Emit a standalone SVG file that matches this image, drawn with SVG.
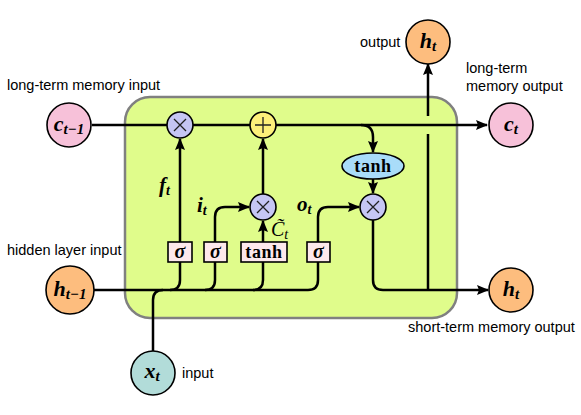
<svg xmlns="http://www.w3.org/2000/svg" width="581" height="415" viewBox="0 0 581 415">
<defs>
<marker id="arr" markerUnits="userSpaceOnUse" markerWidth="12" markerHeight="10" refX="11" refY="5" orient="auto">
<path d="M0,0 L12,5 L0,10 L2,5 z" fill="#000"/>
</marker>
<style>
.lbl{font-family:"Liberation Sans",Arial,sans-serif;font-size:14.5px;fill:#000}
.math{font-family:"Liberation Serif","Times New Roman",serif;font-weight:bold;font-style:italic;fill:#000}
.op{font-family:"Liberation Serif","Times New Roman",serif;font-weight:bold;fill:#000;letter-spacing:0.6px}
.ln{fill:none;stroke:#000;stroke-width:2.5}
.node{stroke:#000;stroke-width:1.6}
.gate{fill:#fde8ec;stroke:#000;stroke-width:1.6}
.sym{stroke:#222;stroke-width:1.3;fill:none}
</style>
</defs>
<rect id="cell" x="125" y="97" width="332" height="221" rx="25" fill="#e0fc8b" stroke="#808080" stroke-width="2.5"/>
<g id="connectors">
<path class="ln" d="M92,125 H487" marker-end="url(#arr)"/>
<path class="ln" d="M361,125 Q373,125 373,137 V152" marker-end="url(#arr)"/>
<path class="ln" d="M373,179 V193" marker-end="url(#arr)"/>
<path class="ln" d="M373,220 V280 Q373,290 383,290 H488" marker-end="url(#arr)"/>
<path class="ln" d="M428,290 V134"/>
<path class="ln" d="M428,116 V64" marker-end="url(#arr)"/>
<path class="ln" d="M94,290 H308 Q318,290 318,280 V262"/>
<path class="ln" d="M180,262 V280 Q180,290 170,290"/>
<path class="ln" d="M215,262 V280 Q215,290 205,290"/>
<path class="ln" d="M263,262 V280 Q263,290 253,290"/>
<path class="ln" d="M153,351 V300 Q153,290 163,290"/>
<path class="ln" d="M180,242 V139" marker-end="url(#arr)"/>
<path class="ln" d="M215,242 V217 Q215,207 225,207 H249" marker-end="url(#arr)"/>
<path class="ln" d="M263,242 V221" marker-end="url(#arr)"/>
<path class="ln" d="M263,194 V139" marker-end="url(#arr)"/>
<path class="ln" d="M318,242 V217 Q318,207 328,207 H359" marker-end="url(#arr)"/>
</g>
<g id="c_prev"><circle class="node" cx="69" cy="125" r="22" fill="#f7c1d9"/><text class="math" x="69" y="131" text-anchor="middle" font-size="22">c<tspan font-size="15" dy="3">t−1</tspan></text></g>
<g id="h_prev"><circle class="node" cx="70" cy="290" r="24" fill="#fdbd7e"/><text class="math" x="70" y="296" text-anchor="middle" font-size="22">h<tspan font-size="15" dy="3">t−1</tspan></text></g>
<g id="x_t"><circle class="node" cx="153" cy="373" r="22" fill="#b2dcd9"/><text class="math" x="152" y="378" text-anchor="middle" font-size="22">x<tspan font-size="15" dy="3">t</tspan></text></g>
<g id="h_out"><circle class="node" cx="428" cy="42" r="22" fill="#fdbd7e"/><text class="math" x="428" y="48" text-anchor="middle" font-size="22">h<tspan font-size="15" dy="3">t</tspan></text></g>
<g id="c_t"><circle class="node" cx="511" cy="125" r="22" fill="#f7c1d9"/><text class="math" x="511" y="131" text-anchor="middle" font-size="22">c<tspan font-size="15" dy="3">t</tspan></text></g>
<g id="h_t"><circle class="node" cx="511" cy="290" r="22" fill="#fdbd7e"/><text class="math" x="511" y="296" text-anchor="middle" font-size="22">h<tspan font-size="15" dy="3">t</tspan></text></g>
<g id="mul_f"><circle class="node" cx="180" cy="125" r="13" fill="#c6c6f4"/><path class="sym" d="M174,119 L186,131 M186,119 L174,131"/></g>
<g id="add"><circle class="node" cx="263" cy="125" r="13" fill="#fdf07a"/><path class="sym" d="M263,117 V133 M255,125 H271"/></g>
<g id="mul_i"><circle class="node" cx="263" cy="207" r="13" fill="#c6c6f4"/><path class="sym" d="M257,201 L269,213 M269,201 L257,213"/></g>
<g id="mul_o"><circle class="node" cx="373" cy="207" r="13" fill="#c6c6f4"/><path class="sym" d="M367,201 L379,213 M379,201 L367,213"/></g>
<g id="tanh_c"><ellipse class="node" cx="373" cy="166" rx="31" ry="13" fill="#a9dcf9"/><text class="op" x="373" y="172" text-anchor="middle" font-size="18">tanh</text></g>
<g id="sig_f"><rect class="gate" x="168" y="242" width="24" height="20"/><text class="math" x="180" y="258" text-anchor="middle" font-size="20">σ</text></g>
<g id="sig_i"><rect class="gate" x="204" y="242" width="23" height="20"/><text class="math" x="215.5" y="258" text-anchor="middle" font-size="20">σ</text></g>
<g id="tanh_g"><rect class="gate" x="241" y="242" width="46" height="20"/><text class="op" x="264" y="258" text-anchor="middle" font-size="18">tanh</text></g>
<g id="sig_o"><rect class="gate" x="307" y="242" width="23" height="20"/><text class="math" x="318.5" y="258" text-anchor="middle" font-size="20">σ</text></g>
<g id="labels">
<text class="math" x="159" y="192" font-size="21">f<tspan font-size="14" dy="3">t</tspan></text>
<text class="math" x="197" y="212" font-size="21">i<tspan font-size="14" dy="3">t</tspan></text>
<text class="math" x="297" y="211" font-size="21">o<tspan font-size="14" dy="3">t</tspan></text>
<text x="271" y="236" font-family="Liberation Serif,serif" font-style="italic" font-size="20">C&#x303;<tspan font-size="14" dy="3">t</tspan></text>
<text class="lbl" x="7" y="90">long-term memory input</text>
<text class="lbl" x="360" y="47">output</text>
<text class="lbl" x="466" y="73">long-term</text>
<text class="lbl" x="466" y="91">memory output</text>
<text class="lbl" x="7" y="255">hidden layer input</text>
<text class="lbl" x="182" y="378">input</text>
<text class="lbl" x="408" y="332">short-term memory output</text>
</g>
</svg>
